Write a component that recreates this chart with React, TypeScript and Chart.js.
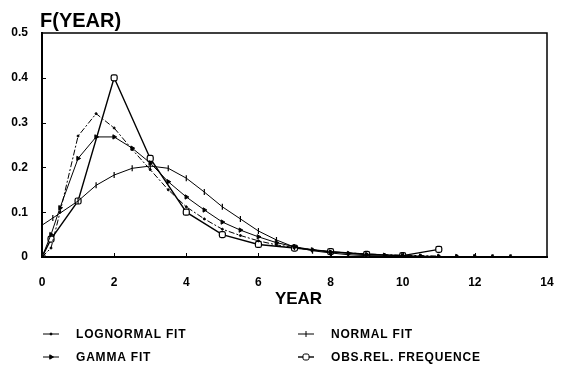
import React, { useEffect, useRef } from 'react';
import { Chart, registerables } from 'chart.js';
import { drawPoint } from 'chart.js/helpers';

Chart.register(...registerables);

// ---- data ----
const seriesLabels = ['LOGNORMAL FIT', 'NORMAL FIT', 'GAMMA FIT', 'OBS.REL. FREQUENCE'];

const lognormalX = [0, 0.25, 0.5, 1, 1.5, 2, 2.5, 3, 3.5, 4, 4.5, 5, 5.5, 6, 6.5, 7, 7.5, 8, 8.5, 9, 9.5, 10, 10.5, 11];
const lognormalY = [0, 0.02, 0.1, 0.27, 0.32, 0.288, 0.24, 0.195, 0.15, 0.112, 0.085, 0.062, 0.048, 0.036, 0.027, 0.021, 0.016, 0.012, 0.009, 0.007, 0.005, 0.004, 0.003, 0.002];

const normalX = [0, 0.3, 1, 1.5, 2, 2.5, 3, 3.5, 4, 4.5, 5, 5.5, 6, 6.5, 7, 7.5, 8, 8.5, 9, 9.5, 10, 10.5, 11, 11.5, 12, 12.5, 13];
const normalY = [0.071, 0.087, 0.125, 0.16, 0.183, 0.198, 0.203, 0.198, 0.176, 0.145, 0.112, 0.085, 0.058, 0.038, 0.022, 0.014, 0.009, 0.005, 0.003, 0.002, 0.001, 0.0005, 0.0003, 0.0002, 0.0001, 0, 0];

const gammaX = [0, 0.25, 0.5, 1, 1.5, 2, 2.5, 3, 3.5, 4, 4.5, 5, 5.5, 6, 6.5, 7, 7.5, 8, 8.5, 9, 9.5, 10, 10.5, 11, 11.5, 12, 12.5, 13];
const gammaY = [0, 0.05, 0.11, 0.22, 0.268, 0.268, 0.243, 0.21, 0.168, 0.134, 0.105, 0.078, 0.06, 0.045, 0.032, 0.023, 0.016, 0.011, 0.008, 0.005, 0.004, 0.003, 0.002, 0.001, 0.001, 0.0005, 0, 0];

const obsX = [0, 0.25, 1, 2, 3, 4, 5, 6, 7, 8, 9, 10, 11];
const obsY = [0, 0.04, 0.125, 0.4, 0.22, 0.1, 0.05, 0.028, 0.02, 0.012, 0.006, 0.003, 0.017];

const xAxisTitle = 'YEAR';
const yAxisTitle = 'F(YEAR)';
const xMin = 0, xMax = 14, xStep = 2;
const yMin = 0, yMax = 0.5, yStep = 0.1;

const FONT = '"Liberation Sans", Arial, Helvetica, sans-serif';

const pts = (xs: number[], ys: number[]) => xs.map((x, i) => ({ x, y: ys[i] }));

const decorPlugin = {
  id: 'decor',
  afterDraw(chart: any) {
    const { ctx, chartArea: a, scales } = chart;
    ctx.save();
    // frame
    ctx.strokeStyle = '#000';
    ctx.lineWidth = 1.5;
    ctx.setLineDash([]);
    ctx.strokeRect(a.left, a.top, a.right - a.left, a.bottom - a.top);
    // inward ticks
    ctx.lineWidth = 1;
    for (let v = xMin + xStep; v < xMax; v += xStep) {
      const px = Math.round(scales.x.getPixelForValue(v)) + 0.5;
      ctx.beginPath(); ctx.moveTo(px, a.bottom); ctx.lineTo(px, a.bottom - 4); ctx.stroke();
    }
    for (let v = yMin + yStep; v < yMax - 1e-9; v += yStep) {
      const py = Math.round(scales.y.getPixelForValue(v)) + 0.5;
      ctx.beginPath(); ctx.moveTo(a.left, py); ctx.lineTo(a.left + 4, py); ctx.stroke();
    }
    // axis titles
    ctx.fillStyle = '#000';
    ctx.font = `bold 20px ${FONT}`;
    ctx.textAlign = 'left';
    ctx.textBaseline = 'alphabetic';
    ctx.fillText(yAxisTitle, a.left - 2, a.top - 6);
    ctx.font = `bold 17px ${FONT}`;
    ctx.textAlign = 'center';
    ctx.fillText(xAxisTitle, (a.left + a.right) / 2 + 4, a.bottom + 47);

    // legend (2 columns)
    const colX = [a.left + 1, a.left + 256];
    const rowY = [a.bottom + 77, a.bottom + 100];
    ctx.font = `bold 12px ${FONT}`;
    (ctx as any).letterSpacing = '0.8px';
    ctx.textAlign = 'left';
    ctx.textBaseline = 'middle';
    chart.data.datasets.forEach((ds: any, i: number) => {
      const cx = colX[i % 2];
      const cy = rowY[Math.floor(i / 2)];
      ctx.strokeStyle = '#000';
      ctx.lineWidth = ds.borderWidth;
      ctx.setLineDash([]);
      ctx.beginPath(); ctx.moveTo(cx, cy); ctx.lineTo(cx + 16, cy); ctx.stroke();
      ctx.fillStyle = ds.pointBackgroundColor || '#000';
      ctx.lineWidth = 1;
      drawPoint(ctx, { pointStyle: ds.pointStyle, rotation: ds.pointRotation || 0, radius: ds.pointRadius, borderWidth: 1 }, cx + 8, cy);
      ctx.fillStyle = '#000';
      ctx.fillText(ds.label, cx + 33, cy + 1);
    });
    ctx.restore();
  },
};

export default function App() {
  const ref = useRef<HTMLCanvasElement>(null);
  useEffect(() => {
    if (!ref.current) return;
    const chart = new Chart(ref.current, {
      type: 'line',
      data: {
        datasets: [
          {
            label: seriesLabels[0],
            data: pts(lognormalX, lognormalY),
            borderColor: '#000', borderWidth: 1, borderDash: [6, 2, 2, 2],
            pointStyle: 'circle', pointRadius: 1, pointBackgroundColor: '#000', pointBorderColor: '#000',
            tension: 0,
          },
          {
            label: seriesLabels[1],
            data: pts(normalX, normalY),
            borderColor: '#000', borderWidth: 1,
            pointStyle: 'line', pointRotation: 90, pointRadius: 3, pointBorderWidth: 1.2,
            pointBackgroundColor: '#000', pointBorderColor: '#000',
            tension: 0,
          },
          {
            label: seriesLabels[2],
            data: pts(gammaX, gammaY),
            borderColor: '#000', borderWidth: 1,
            pointStyle: 'triangle', pointRotation: 90, pointRadius: 2.5,
            pointBackgroundColor: '#000', pointBorderColor: '#000',
            tension: 0,
          },
          {
            label: seriesLabels[3],
            data: pts(obsX, obsY),
            borderColor: '#000', borderWidth: 1.4,
            pointStyle: 'rectRounded', pointRadius: 3.5, pointBorderWidth: 1.2,
            pointBackgroundColor: '#fff', pointBorderColor: '#000',
            tension: 0,
          },
        ],
      },
      options: {
        responsive: false,
        animation: false,
        events: [],
        layout: { padding: { top: 33, right: 18, bottom: 0, left: 0 } },
        plugins: { legend: { display: false }, tooltip: { enabled: false }, title: { display: false } },
        scales: {
          x: {
            type: 'linear', min: xMin, max: xMax,
            grid: { display: false },
            border: { display: true, color: '#000', width: 2 },
            ticks: {
              stepSize: xStep, color: '#000', padding: 10, maxRotation: 0,
              font: { family: FONT, size: 12, weight: 'bold' },
              callback: (v: any) => String(v),
            },
            afterFit: (s: any) => { s.height = 110; },
          },
          y: {
            type: 'linear', min: yMin, max: yMax,
            grid: { display: false },
            border: { display: true, color: '#000', width: 2 },
            ticks: {
              stepSize: yStep, color: '#000', padding: 6,
              font: { family: FONT, size: 12, weight: 'bold' },
              callback: (v: any) => (Math.abs(v) < 1e-9 ? '0' : Number(v).toFixed(1)),
            },
            afterFit: (s: any) => { s.width = 42; },
          },
        },
      },
      plugins: [decorPlugin],
    });
    return () => chart.destroy();
  }, []);
  return (
    <div style={{ position: 'absolute', left: 0, top: 0, width: 565, height: 367, background: '#fff' }}>
      <canvas ref={ref} width={565} height={367} style={{ display: 'block', width: 565, height: 367 }} />
    </div>
  );
}
